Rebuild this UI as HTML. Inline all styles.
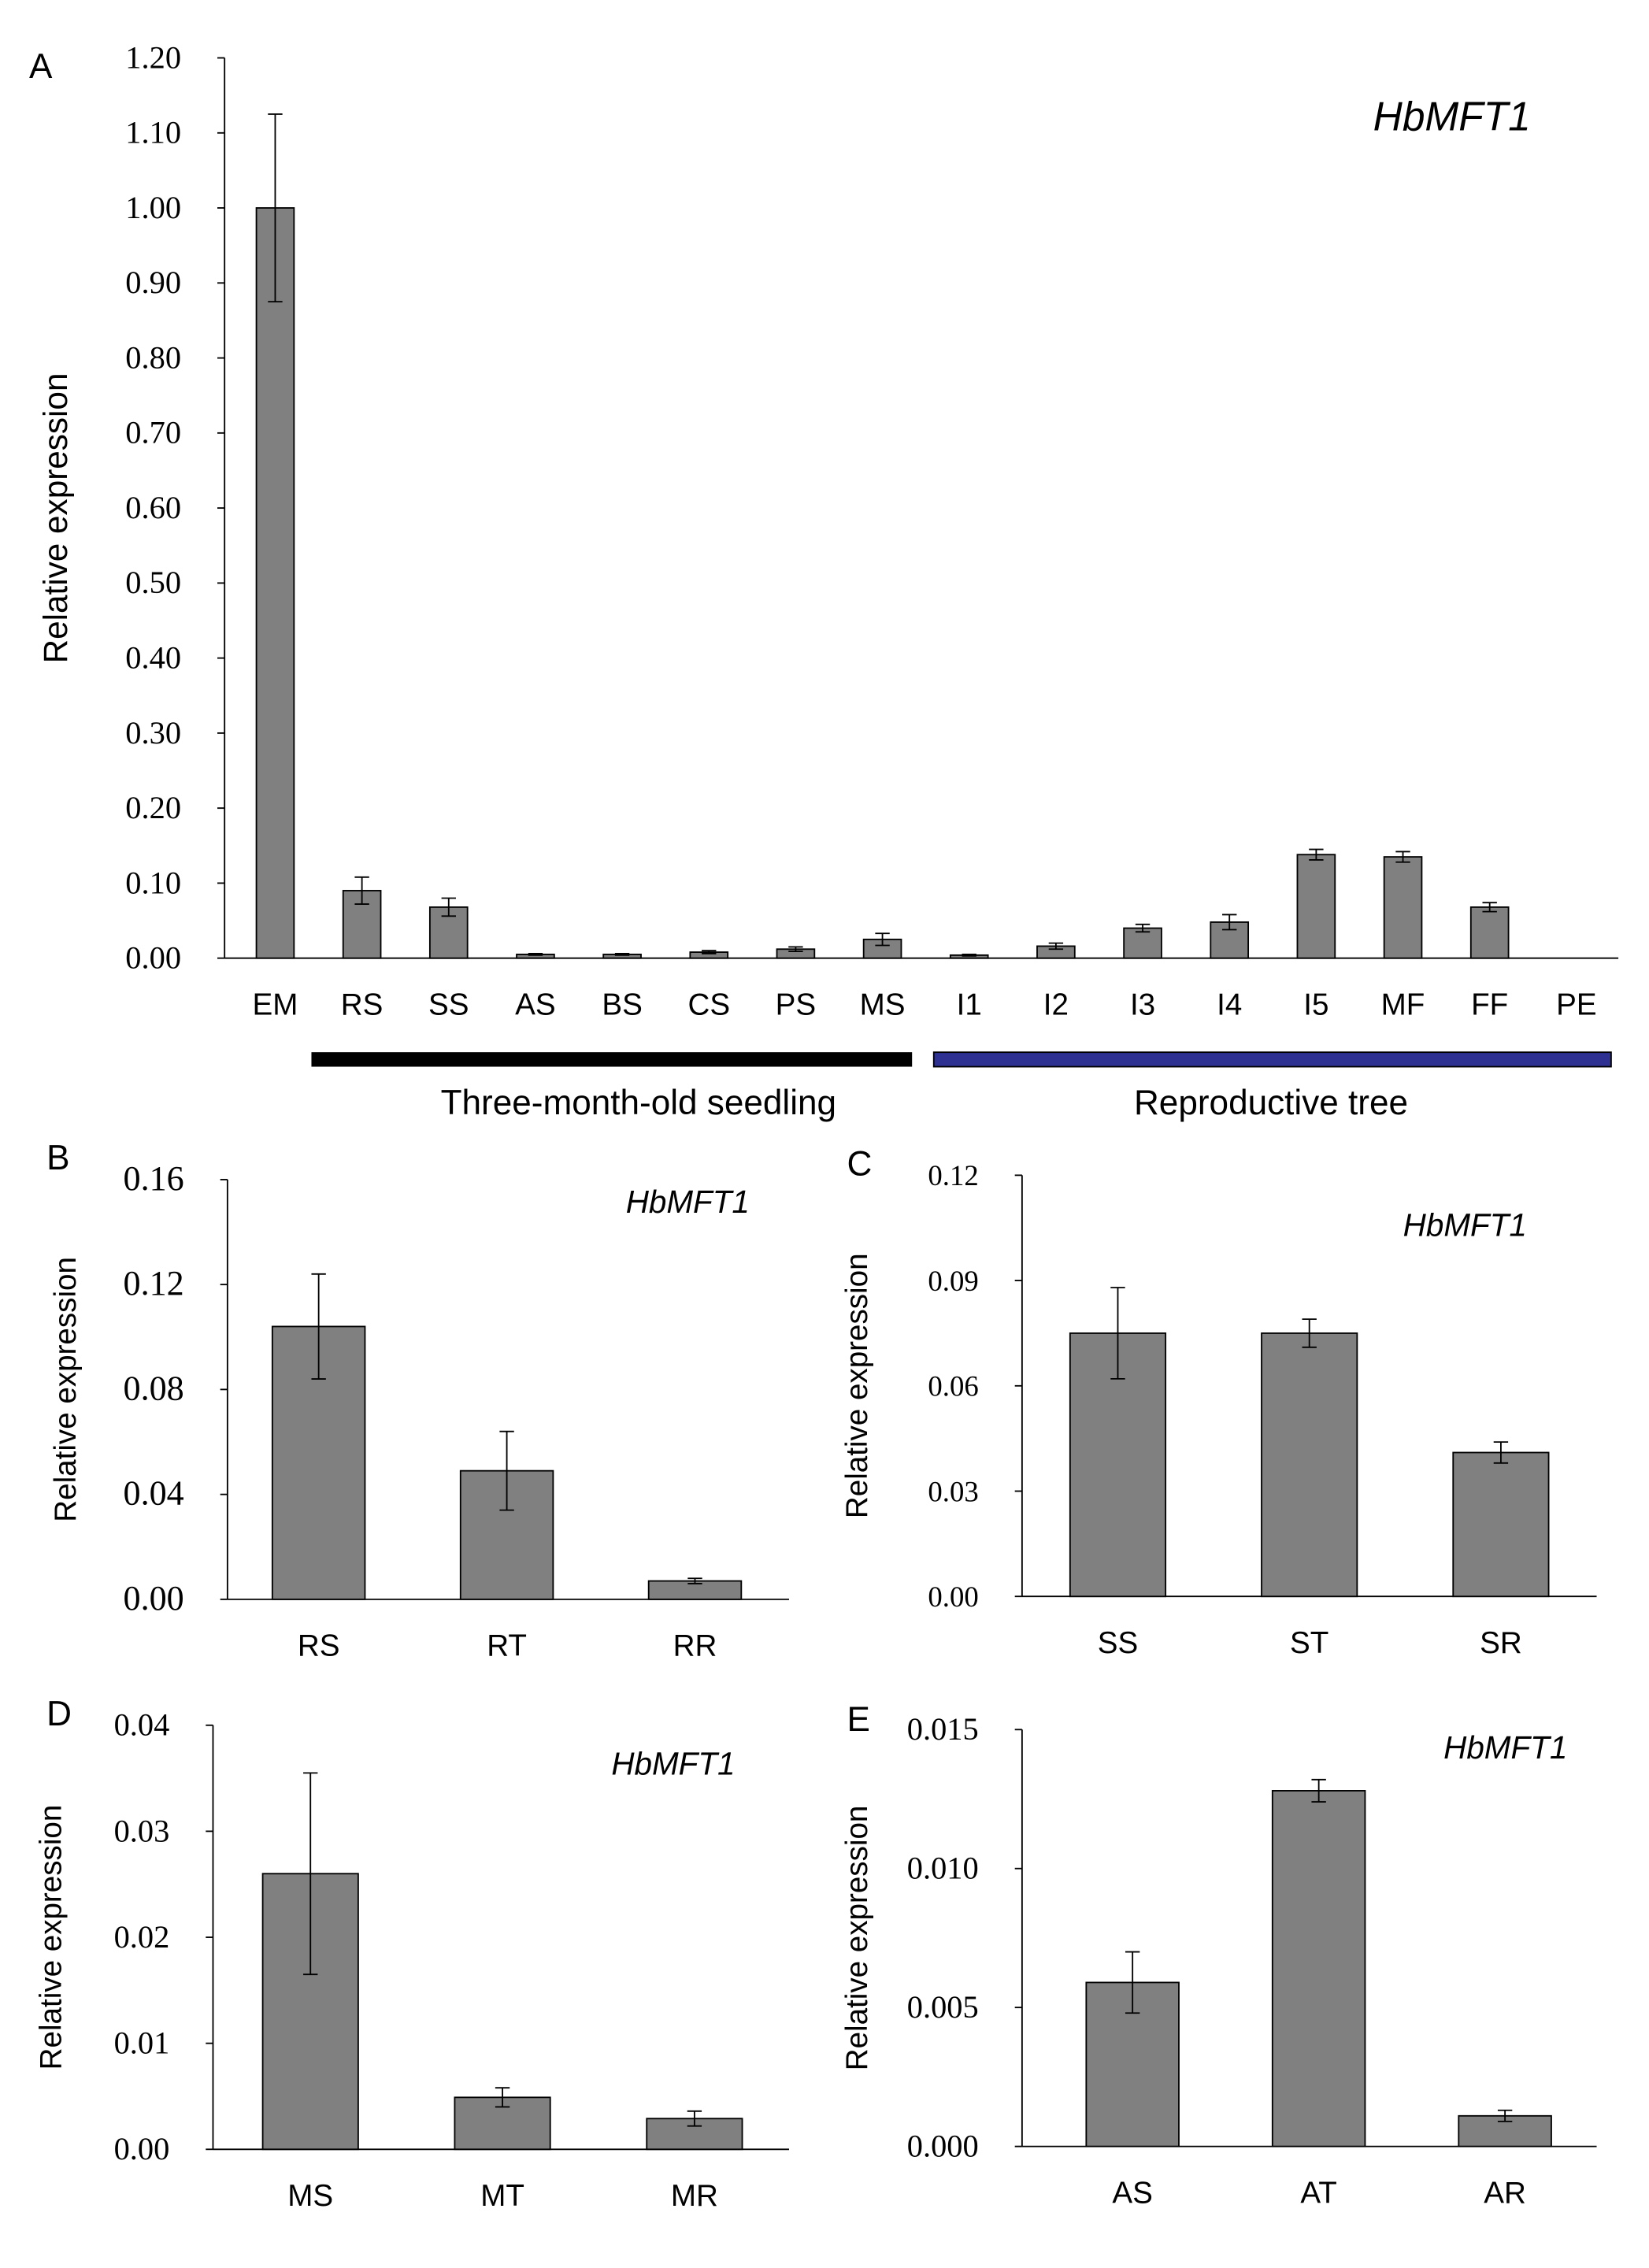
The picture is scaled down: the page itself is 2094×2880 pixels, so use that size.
<!DOCTYPE html>
<html><head><meta charset="utf-8"><style>
html,body{margin:0;padding:0;background:#fff}
svg{display:block}
text{font-family:"Liberation Sans",sans-serif;fill:#000}
.tk{font-family:"Liberation Serif",serif}
</style></head><body>
<svg id="s" width="2094" height="2880" viewBox="0 0 1139 1567" xmlns="http://www.w3.org/2000/svg"></svg>
<script>
// Panel A data
const catsA=["EM","RS","SS","AS","BS","CS","PS","MS","I1","I2","I3","I4","I5","MF","FF","PE"];
const valsA=[1.00,0.090,0.068,0.005,0.005,0.008,0.012,0.025,0.004,0.016,0.040,0.048,0.138,0.135,0.068,0];
const errsA=[0.125,0.018,0.012,0.001,0.001,0.002,0.003,0.008,0.001,0.004,0.005,0.010,0.007,0.007,0.006,0];
const ticksA=["0.00","0.10","0.20","0.30","0.40","0.50","0.60","0.70","0.80","0.90","1.00","1.10","1.20"];
// Panel B
const catsB=["RS","RT","RR"];const valsB=[0.104,0.049,0.007];const errsB=[0.020,0.015,0.001];
const ticksB=["0.00","0.04","0.08","0.12","0.16"];
// Panel C
const catsC=["SS","ST","SR"];const valsC=[0.075,0.075,0.041];const errsC=[0.013,0.004,0.003];
const ticksC=["0.00","0.03","0.06","0.09","0.12"];
// Panel D
const catsD=["MS","MT","MR"];const valsD=[0.026,0.0049,0.0029];const errsD=[0.0095,0.0009,0.0007];
const ticksD=["0.00","0.01","0.02","0.03","0.04"];
// Panel E
const catsE=["AS","AT","AR"];const valsE=[0.0059,0.0128,0.0011];const errsE=[0.0011,0.0004,0.0002];
const ticksE=["0.000","0.005","0.010","0.015"];

const svg=document.getElementById('s');const NS="http://www.w3.org/2000/svg";
function el(t,a,txt){const e=document.createElementNS(NS,t);for(const k in a)e.setAttribute(k,a[k]);if(txt!=null)e.textContent=txt;svg.appendChild(e);return e;}

function panel(p){
  const max=parseFloat(p.ticks[p.ticks.length-1]);
  const y=v=>p.y0-(v/max)*(p.y0-p.y1);
  const n=p.cats.length;
  const x=i=>p.x0+(i+0.5)*(p.x2-p.x0)/n+(p.shift||0);
  let e=el('line',{x1:p.x0,y1:p.y1,x2:p.x0,y2:p.y0,stroke:'#000','stroke-width':1});
  
  e=el('line',{x1:p.x0,y1:p.y0,x2:p.xe||p.x2,y2:p.y0,stroke:'#000','stroke-width':1});
  
  p.ticks.forEach(t=>{const v=parseFloat(t);const yy=y(v);
    el('line',{x1:p.x0-5,y1:yy,x2:p.x0,y2:yy,stroke:'#000'});
    e=el('text',{x:p.x0-30,y:yy+7,'text-anchor':'end',class:'tk','font-size':p.fs},t);
    
  });
  p.cats.forEach((c,i)=>{const cx=x(i),v=p.vals[i],er=p.errs[i];
    if(v>0){e=el('rect',{x:cx-p.bw/2,y:y(v),width:p.bw,height:p.y0-y(v),fill:'#808080',stroke:'#000','stroke-width':1});
    }
    if(er>0){el('line',{x1:cx,y1:y(v+er),x2:cx,y2:y(v-er),stroke:'#000'});
      el('line',{x1:cx-5,y1:y(v+er),x2:cx+5,y2:y(v+er),stroke:'#000'});
      el('line',{x1:cx-5,y1:y(v-er),x2:cx+5,y2:y(v-er),stroke:'#000'});}
    e=el('text',{x:cx,y:p.y0+39,'text-anchor':'middle','font-size':21},c);
    
  });
  const yc=p.ylc||(p.y0+p.y1)/2;
  e=el('text',{x:p.ylx,y:yc,'text-anchor':'middle','font-size':p.ylfs||21,transform:`rotate(-90 ${p.ylx} ${yc})`},'Relative expression');
  
  e=el('text',{x:p.gx,y:p.gy,'text-anchor':'middle','font-size':p.gfs,'font-style':'italic'},'HbMFT1');
  
  e=el('text',{x:p.lx,y:p.ly,'font-size':24},p.letter);
  
}
panel({id:'a',letter:'A',lx:20,ly:54,cats:catsA,vals:valsA,errs:errsA,ticks:ticksA,x0:155,x2:1114,xe:1118,y0:662,y1:40,bw:26,fs:22,ylx:46,ylc:358,ylfs:23,gx:1003,gy:90,gfs:28,shift:5});
panel({id:'b',letter:'B',lx:32,ly:808,cats:catsB,vals:valsB,errs:errsB,ticks:ticksB,x0:157,x2:547,xe:545,y0:1105,y1:815,bw:64,fs:24,ylx:52,gx:475,gy:838,gfs:22,shift:-2});
panel({id:'c',letter:'C',lx:585,ly:812,cats:catsC,vals:valsC,errs:errsC,ticks:ticksC,x0:706,x2:1103,y0:1103,y1:812,bw:66,fs:20,ylx:599,gx:1012,gy:854,gfs:22,shift:0});
panel({id:'d',letter:'D',lx:32,ly:1192,cats:catsD,vals:valsD,errs:errsD,ticks:ticksD,x0:147,x2:545,y0:1485,y1:1192,bw:66,fs:22,ylx:42,gx:465,gy:1226,gfs:22,shift:1});
panel({id:'e',letter:'E',lx:585,ly:1196,cats:catsE,vals:valsE,errs:errsE,ticks:ticksE,x0:706,x2:1092,xe:1103,y0:1483,y1:1195,bw:64,fs:22,ylx:599,gx:1040,gy:1215,gfs:22,shift:12});

let g=el('rect',{x:215,y:727,width:415,height:10,fill:'#000'});

g=el('rect',{x:645,y:727,width:468,height:10,fill:'#2e3192',stroke:'#000','stroke-width':1});

g=el('text',{x:441,y:770,'text-anchor':'middle','font-size':24},'Three-month-old seedling');

g=el('text',{x:878,y:770,'text-anchor':'middle','font-size':24},'Reproductive tree');

</script>
</body></html>
